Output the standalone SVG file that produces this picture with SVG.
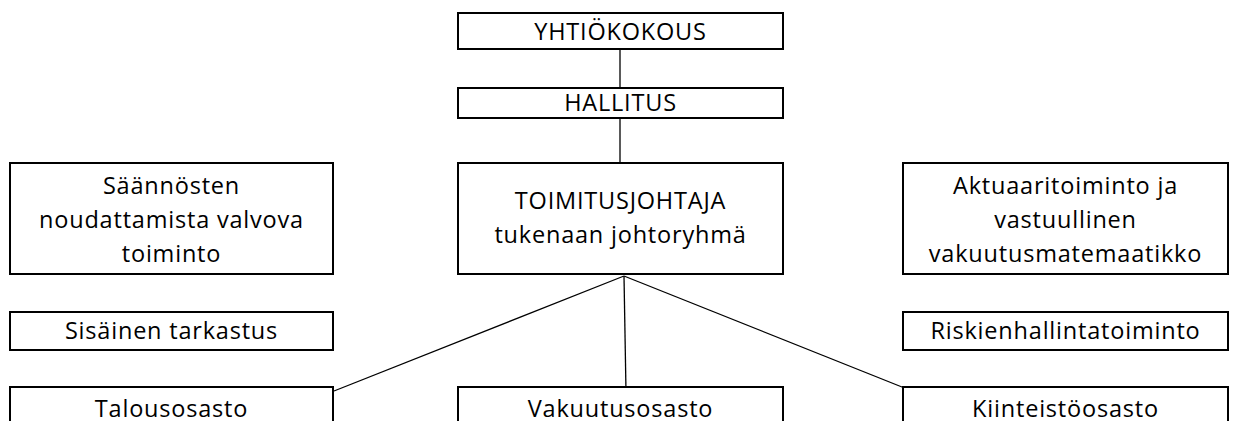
<svg xmlns="http://www.w3.org/2000/svg" width="1237" height="421" viewBox="0 0 1237 421">
<style>
.box{fill:#fff;stroke:#000;stroke-width:2}
.lbl{font-family:"Open Sans","Liberation Sans",sans-serif;font-size:23.5px;letter-spacing:0.8px;fill:#000;text-anchor:middle}
.con{stroke:#000;stroke-width:1.3;fill:none}
</style>
<rect width="1237" height="421" fill="#fff"/>
<g id="connectors">
<line class="con" x1="620" y1="50" x2="620" y2="88"/>
<line class="con" x1="620" y1="118" x2="620" y2="163"/>
<line class="con" x1="624" y1="276" x2="334" y2="391"/>
<line class="con" x1="624" y1="276" x2="626" y2="392"/>
<line class="con" x1="624" y1="276" x2="912" y2="391"/>
</g>
<g id="yhtiokokous"><rect class="box" x="458" y="13" width="325" height="36"/><text class="lbl" x="620.5" y="40">YHTIÖKOKOUS</text></g>
<g id="hallitus"><rect class="box" x="458" y="88" width="325" height="30"/><text class="lbl" x="620.5" y="111">HALLITUS</text></g>
<g id="toimitusjohtaja"><rect class="box" x="458" y="163" width="325" height="111"/><text class="lbl" x="620.5" y="209">TOIMITUSJOHTAJA</text><text class="lbl" x="620.5" y="243">tukenaan johtoryhmä</text></g>
<g id="compliance"><rect class="box" x="10" y="163" width="323" height="111"/><text class="lbl" x="171.5" y="194">Säännösten</text><text class="lbl" x="171.5" y="228">noudattamista valvova</text><text class="lbl" x="171.5" y="262">toiminto</text></g>
<g id="aktuaari"><rect class="box" x="903" y="163" width="325" height="111"/><text class="lbl" x="1065.5" y="194">Aktuaaritoiminto ja</text><text class="lbl" x="1065.5" y="228">vastuullinen</text><text class="lbl" x="1065.5" y="262">vakuutusmatemaatikko</text></g>
<g id="sisainen"><rect class="box" x="10" y="312" width="323" height="38"/><text class="lbl" x="171.5" y="339">Sisäinen tarkastus</text></g>
<g id="riski"><rect class="box" x="903" y="312" width="325" height="38"/><text class="lbl" x="1065.5" y="339">Riskienhallintatoiminto</text></g>
<g id="talous"><rect class="box" x="10" y="387" width="323" height="60"/><text class="lbl" x="171.5" y="417">Talousosasto</text></g>
<g id="vakuutus"><rect class="box" x="458" y="387" width="325" height="60"/><text class="lbl" x="620.5" y="417">Vakuutusosasto</text></g>
<g id="kiinteisto"><rect class="box" x="903" y="387" width="325" height="60"/><text class="lbl" x="1065.5" y="417">Kiinteistöosasto</text></g>
</svg>
